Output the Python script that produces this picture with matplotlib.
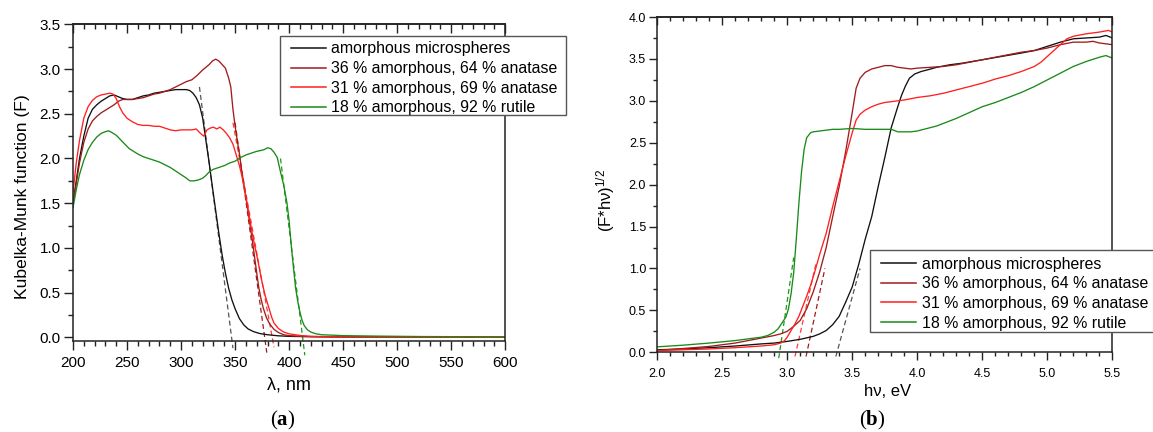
import matplotlib
matplotlib.use("Agg")
import matplotlib.pyplot as plt
from matplotlib.ticker import MultipleLocator, FormatStrFormatter
from matplotlib.patches import Rectangle

plt.rcParams.update({
    "font.family": ["Liberation Sans", "DejaVu Sans"],
    "mathtext.fontset": "custom",
    "mathtext.rm": "Liberation Sans",
    "mathtext.it": "Liberation Sans:italic",
    "mathtext.bf": "Liberation Serif:bold",
    "mathtext.default": "rm",
})

# ---------------------------------------------------------------- data
series_labels = [
    "amorphous microspheres",
    "36 % amorphous, 64 % anatase",
    "31 % amorphous, 69 % anatase",
    "18 % amorphous, 92 % rutile",
]
series_colors = ["#111111", "#a01c1c", "#ff1f1f", "#1a8a1a"]
dash_colors = ["#555555", "#a01c1c", "#ff3a3a", "#1a9a1a"]

# (a) Kubelka-Munk function vs wavelength, nm
wl_amorph = [200, 203, 206, 210, 214, 218, 222, 226, 230, 234, 238, 242, 246, 250,
             255, 260, 265, 270, 275, 280, 285, 290, 295, 300, 305, 308, 311, 314,
             317, 320, 323, 326, 329, 332, 335, 338, 341, 344, 347, 350, 354, 358,
             362, 367, 373, 380, 390, 400, 420, 450, 500, 550, 600]
km_amorph = [1.50, 1.75, 2.00, 2.25, 2.45, 2.55, 2.60, 2.64, 2.67, 2.70, 2.71, 2.69, 2.67, 2.66,
             2.66, 2.68, 2.70, 2.71, 2.73, 2.74, 2.75, 2.76, 2.77, 2.77, 2.77, 2.76, 2.73, 2.68,
             2.60, 2.45, 2.20, 1.95, 1.68, 1.42, 1.16, 0.92, 0.72, 0.55, 0.42, 0.32, 0.21, 0.14,
             0.095, 0.065, 0.043, 0.030, 0.018, 0.012, 0.008, 0.005, 0.003, 0.002, 0.002]

wl_a64 = [200, 203, 206, 210, 214, 218, 222, 226, 230, 234, 238, 242, 246, 250, 255,
          260, 265, 270, 275, 280, 285, 290, 295, 300, 305, 310, 315, 320, 323, 326,
          329, 332, 335, 338, 341, 344, 346, 348, 350, 352, 354, 356, 358, 360, 362,
          364, 366, 368, 370, 372, 374, 376, 379, 382, 386, 390, 395, 400, 410, 430,
          470, 530, 600]
km_a64 = [1.50, 1.72, 1.95, 2.18, 2.33, 2.42, 2.47, 2.51, 2.54, 2.57, 2.60, 2.64, 2.66, 2.66, 2.66,
          2.67, 2.68, 2.70, 2.72, 2.73, 2.75, 2.77, 2.80, 2.83, 2.86, 2.88, 2.93, 2.99, 3.02, 3.05,
          3.09, 3.11, 3.09, 3.05, 3.01, 2.90, 2.80, 2.55, 2.36, 2.20, 2.05, 1.87, 1.72, 1.56, 1.41,
          1.24, 1.08, 0.90, 0.72, 0.55, 0.43, 0.33, 0.22, 0.15, 0.09, 0.055, 0.030, 0.020, 0.012, 0.008,
          0.005, 0.003, 0.002]

wl_a69 = [200, 203, 206, 210, 214, 218, 222, 226, 230, 234, 237, 240, 243, 246, 250,
          255, 260, 265, 270, 275, 280, 285, 290, 295, 300, 305, 310, 314, 318, 321,
          324, 327, 330, 333, 336, 339, 342, 345, 348, 350, 352, 354, 356, 358, 360,
          362, 364, 366, 368, 370, 372, 374, 376, 378, 380, 382, 384, 386, 390, 395,
          400, 410, 420, 440, 480, 540, 600]
km_a69 = [1.62, 1.95, 2.20, 2.45, 2.58, 2.65, 2.69, 2.71, 2.72, 2.73, 2.72, 2.67, 2.58, 2.51, 2.45,
          2.41, 2.38, 2.37, 2.37, 2.36, 2.36, 2.34, 2.32, 2.31, 2.32, 2.32, 2.32, 2.33, 2.28, 2.25,
          2.32, 2.34, 2.35, 2.33, 2.35, 2.32, 2.28, 2.23, 2.16, 2.08, 2.00, 1.92, 1.82, 1.70, 1.57,
          1.43, 1.29, 1.15, 1.03, 0.92, 0.80, 0.67, 0.56, 0.46, 0.38, 0.30, 0.22, 0.16, 0.10, 0.06,
          0.040, 0.022, 0.012, 0.007, 0.004, 0.003, 0.002]

wl_rut = [200, 203, 206, 210, 214, 218, 222, 226, 230, 233, 236, 240, 244, 248, 252,
          256, 260, 265, 270, 275, 280, 285, 290, 295, 300, 305, 308, 312, 316, 320,
          323, 326, 330, 335, 340, 345, 350, 355, 360, 365, 370, 374, 377, 380, 383,
          386, 389, 392, 395, 398, 400, 402, 404, 406, 408, 410, 412, 414, 417, 420,
          425, 430, 450, 480, 520, 560, 600]
km_rut = [1.45, 1.65, 1.82, 1.98, 2.10, 2.18, 2.24, 2.28, 2.30, 2.31, 2.29, 2.26, 2.21, 2.16, 2.11,
          2.08, 2.05, 2.02, 2.00, 1.98, 1.96, 1.93, 1.90, 1.86, 1.82, 1.78, 1.75, 1.75, 1.76, 1.78,
          1.81, 1.85, 1.88, 1.90, 1.92, 1.95, 1.97, 2.01, 2.04, 2.06, 2.08, 2.09, 2.10, 2.12, 2.11,
          2.07, 2.01, 1.85, 1.70, 1.50, 1.30, 1.02, 0.78, 0.55, 0.40, 0.28, 0.19, 0.13, 0.085, 0.06,
          0.04, 0.03, 0.02, 0.015, 0.010, 0.008, 0.006]

# linear extrapolations of the absorption edges: (x0, x1), (y0, y1)
edge_wl = [(317, 348), (350, 379.3), (348, 386), (392, 414.5)]
edge_km = [(2.80, -0.12), (2.40, -0.17), (2.40, -0.11), (2.00, -0.20)]

# (b) Tauc plot, photon energy in eV
ev_amorph = [2.0, 2.2, 2.4, 2.6, 2.8, 2.9, 3.0, 3.1, 3.2, 3.25, 3.3, 3.35, 3.4, 3.45, 3.5,
             3.55, 3.6, 3.65, 3.7, 3.75, 3.8, 3.85, 3.88, 3.91, 3.94, 3.98, 4.03, 4.08, 4.15,
             4.25, 4.35, 4.5, 4.65, 4.8, 4.9, 5.0, 5.1, 5.2, 5.3, 5.4, 5.45, 5.5]
tauc_amorph = [0.03, 0.04, 0.055, 0.075, 0.10, 0.11, 0.13, 0.155, 0.19, 0.22, 0.26, 0.33, 0.43, 0.60, 0.78,
               1.05, 1.35, 1.62, 1.98, 2.32, 2.68, 2.93, 3.07, 3.18, 3.27, 3.32, 3.35, 3.37, 3.40,
               3.43, 3.45, 3.49, 3.53, 3.57, 3.60, 3.65, 3.70, 3.74, 3.75, 3.76, 3.78, 3.75]

ev_a64 = [2.0, 2.2, 2.4, 2.6, 2.7, 2.8, 2.9, 2.95, 3.0, 3.05, 3.1, 3.15, 3.2, 3.25, 3.3,
          3.35, 3.4, 3.45, 3.5, 3.53, 3.56, 3.6, 3.65, 3.7, 3.75, 3.8, 3.85, 3.9, 3.95, 4.0,
          4.1, 4.2, 4.3, 4.4, 4.5, 4.6, 4.7, 4.8, 4.9, 5.0, 5.1, 5.2, 5.3, 5.35, 5.4, 5.45, 5.5]
tauc_a64 = [0.02, 0.045, 0.07, 0.11, 0.14, 0.17, 0.20, 0.22, 0.25, 0.31, 0.38, 0.52, 0.72, 0.96, 1.25,
            1.62, 1.98, 2.40, 2.86, 3.15, 3.27, 3.34, 3.38, 3.40, 3.42, 3.42, 3.40, 3.39, 3.38, 3.39,
            3.40, 3.41, 3.43, 3.46, 3.49, 3.52, 3.55, 3.58, 3.60, 3.63, 3.67, 3.70, 3.70, 3.71, 3.69, 3.68, 3.67]

ev_a69 = [2.0, 2.2, 2.4, 2.6, 2.8, 2.9, 2.95, 2.98, 3.0, 3.03, 3.06, 3.09, 3.12, 3.15, 3.18,
          3.21, 3.25, 3.3, 3.35, 3.4, 3.45, 3.5, 3.53, 3.56, 3.6, 3.65, 3.7, 3.75, 3.8, 3.85,
          3.9, 4.0, 4.1, 4.2, 4.3, 4.4, 4.5, 4.6, 4.7, 4.8, 4.9, 4.95, 5.0, 5.05, 5.1, 5.15,
          5.2, 5.3, 5.4, 5.47, 5.5]
tauc_a69 = [0.02, 0.03, 0.04, 0.055, 0.075, 0.09, 0.11, 0.14, 0.18, 0.26, 0.34, 0.43, 0.55, 0.67, 0.80,
            0.95, 1.17, 1.42, 1.74, 2.04, 2.34, 2.62, 2.77, 2.84, 2.89, 2.93, 2.96, 2.98, 2.99, 3.00,
            3.01, 3.04, 3.06, 3.09, 3.13, 3.17, 3.21, 3.26, 3.30, 3.35, 3.41, 3.46, 3.53, 3.60, 3.67, 3.74,
            3.77, 3.80, 3.82, 3.84, 3.82]

ev_rut = [2.0, 2.2, 2.4, 2.5, 2.6, 2.7, 2.8, 2.85, 2.9, 2.93, 2.96, 2.99, 3.01, 3.03, 3.05,
          3.07, 3.09, 3.11, 3.13, 3.15, 3.18, 3.2, 3.25, 3.3, 3.35, 3.4, 3.5, 3.6, 3.7, 3.75,
          3.8, 3.85, 3.9, 3.95, 4.0, 4.05, 4.1, 4.15, 4.2, 4.3, 4.4, 4.5, 4.6, 4.7, 4.8, 4.9,
          5.0, 5.1, 5.2, 5.3, 5.4, 5.45, 5.5]
tauc_rut = [0.065, 0.085, 0.11, 0.125, 0.14, 0.16, 0.18, 0.20, 0.24, 0.28, 0.35, 0.42, 0.52, 0.70, 0.95,
            1.35, 1.78, 2.15, 2.42, 2.56, 2.62, 2.63, 2.64, 2.65, 2.66, 2.66, 2.67, 2.66, 2.66, 2.66,
            2.66, 2.63, 2.63, 2.63, 2.64, 2.66, 2.68, 2.70, 2.73, 2.79, 2.86, 2.93, 2.98, 3.04, 3.10, 3.17,
            3.25, 3.33, 3.41, 3.47, 3.52, 3.54, 3.51]

edge_ev = [(3.374, 3.56), (3.145, 3.29), (3.06, 3.22), (2.935, 3.05)]
edge_tauc = [(-0.05, 1.00), (-0.05, 1.00), (-0.05, 1.05), (-0.07, 1.13)]

# ---------------------------------------------------------------- figure
W, H = 1153, 432
fig = plt.figure(figsize=(W / 100, H / 100), dpi=100)


def px_box(left, top, right, bottom):
    return [left / W, 1 - bottom / H, (right - left) / W, (bottom - top) / H]


def style_axes(ax, xmaj, xmin, ymaj, ymin, labsize, majlen, minlen, xpad, ypad):
    ax.xaxis.set_major_locator(MultipleLocator(xmaj))
    ax.xaxis.set_minor_locator(MultipleLocator(xmin))
    ax.yaxis.set_major_locator(MultipleLocator(ymaj))
    ax.yaxis.set_minor_locator(MultipleLocator(ymin))
    ax.tick_params(which="both", direction="out", top=False, right=False,
                   width=1.0, color="#222222", labelsize=labsize)
    ax.tick_params(which="major", length=majlen)
    ax.tick_params(which="minor", length=minlen)
    ax.tick_params(axis="x", pad=xpad)
    ax.tick_params(axis="y", pad=ypad)
    for sp in ax.spines.values():
        sp.set_linewidth(1.1)
        sp.set_color("#222222")
    top = ax.secondary_xaxis("top")
    top.xaxis.set_major_locator(MultipleLocator(xmaj))
    top.xaxis.set_minor_locator(MultipleLocator(xmin))
    top.tick_params(which="both", direction="in", labeltop=False, width=1.0, color="#222222")
    top.tick_params(which="major", length=majlen)
    top.tick_params(which="minor", length=minlen)
    top.spines["top"].set_linewidth(1.1)
    top.spines["top"].set_color("#222222")
    ax.yaxis.set_major_formatter(FormatStrFormatter("%.1f"))


def legend_box(ax, left, top, right, bottom):
    ax.add_artist(Rectangle((left / W, 1 - bottom / H), (right - left) / W, (bottom - top) / H,
                            transform=fig.transFigure, facecolor="white",
                            edgecolor="#555555", lw=1.0, zorder=4, clip_on=False))


# ---- panel (a)
axA = fig.add_axes(px_box(73, 24.3, 505.3, 341))
axA.set_xlim(200, 600)
axA.set_ylim(-0.04, 3.5)
style_axes(axA, 50, 10, 0.5, 0.25, 11, 6.5, 3.3, 4.5, 2.4)

curvesA = [(wl_amorph, km_amorph), (wl_a64, km_a64), (wl_a69, km_a69), (wl_rut, km_rut)]
for (xs, ys), (ex, ey), c, dc, lab in zip(curvesA, zip(edge_wl, edge_km),
                                          series_colors, dash_colors, series_labels):
    axA.plot(ex, ey, color=dc, lw=0.9, ls=(0, (4, 2.5)), zorder=1, clip_on=False)
    axA.plot(xs, ys, color=c, lw=0.95, zorder=2, label=lab)

# ---- panel (b)
axB = fig.add_axes(px_box(657.1, 17, 1112.4, 352.3))
axB.set_xlim(2.0, 5.5)
axB.set_ylim(0, 4.0)
style_axes(axB, 0.5, 0.1, 0.5, 0.25, 9, 5.5, 3.0, 6.0, 2.4)

curvesB = [(ev_amorph, tauc_amorph), (ev_a64, tauc_a64), (ev_a69, tauc_a69), (ev_rut, tauc_rut)]
for (xs, ys), (ex, ey), c, dc, lab in zip(curvesB, zip(edge_ev, edge_tauc),
                                          series_colors, dash_colors, series_labels):
    axB.plot(ex, ey, color=dc, lw=0.9, ls=(0, (4, 2.5)), zorder=1, clip_on=False)
    axB.plot(xs, ys, color=c, lw=0.95, zorder=2, label=lab)

# ---- legends: unframed entries over a plain rectangle
legend_kw = dict(frameon=False, borderpad=0, borderaxespad=0, handlelength=2.2)
legend_box(axA, 280, 36, 566, 115)
legA = axA.legend(loc="upper left", bbox_to_anchor=(291 / W, 1 - 41.5 / H),
                  bbox_transform=fig.transFigure, handletextpad=0.3,
                  labelspacing=0.29, fontsize=11.4, **legend_kw)
legend_box(axB, 870, 250, 1165, 331.7)
legB = axB.legend(loc="upper left", bbox_to_anchor=(880.7 / W, 1 - 256.5 / H),
                  bbox_transform=fig.transFigure, handletextpad=0.4,
                  labelspacing=0.3, fontsize=11.4, **legend_kw)
for lg in (legA, legB):
    lg.set_zorder(10)
    for ln in lg.get_lines():
        ln.set_linewidth(1.1)

# ---- axis titles and panel tags
fig.text(23 / W, 1 - 197 / H, "Kubelka-Munk function (F)", rotation=90,
         ha="center", va="center", fontsize=12.6)
fig.text(289 / W, 1 - 385 / H, "λ, nm", ha="center", va="center", fontsize=13)
fig.text(605.5 / W, 1 - 200 / H, "(F*hν)$^{1/2}$", rotation=90,
         ha="center", va="center", fontsize=12)
fig.text(887.7 / W, 1 - 391.7 / H, "hν, eV", ha="center", va="center", fontsize=12)
fig.text(283 / W, 1 - 420 / H, r"($\mathbf{a}$)", ha="center", va="center",
         fontsize=15, family="Liberation Serif")
fig.text(872.3 / W, 1 - 420 / H, r"($\mathbf{b}$)", ha="center", va="center",
         fontsize=15, family="Liberation Serif")

fig.savefig("out.png", dpi=100)
